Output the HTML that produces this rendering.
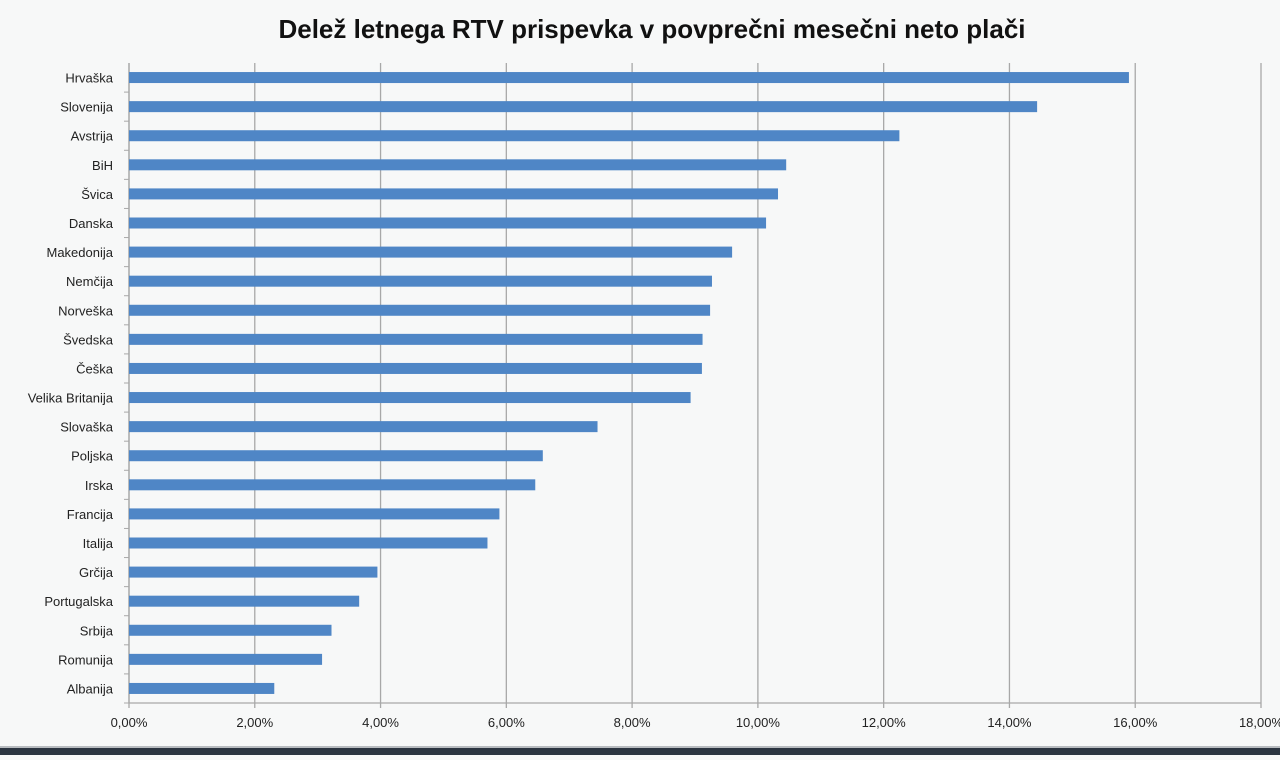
<!DOCTYPE html>
<html><head><meta charset="utf-8"><style>
body{margin:0;width:1280px;height:755px;background:#f7f8f8;overflow:hidden;font-family:"Liberation Sans",sans-serif}
</style></head><body>
<svg id="c" width="1280" height="755">
<rect x="0" y="0" width="1280" height="747" fill="#f7f8f8"/>
<rect x="0" y="746" width="1280" height="2" fill="#b8bcc0"/>
<rect x="0" y="748" width="1280" height="7" fill="#2b3541"/>
<text x="652" y="38" text-anchor="middle" font-size="26" font-weight="bold" fill="#111">Delež letnega RTV prispevka v povprečni mesečni neto plači</text>
<g id="grid"></g><g id="bars"></g><g id="labels"></g><g id="ticks"></g>
</svg>
<script>
const categories=["Hrvaška","Slovenija","Avstrija","BiH","Švica","Danska","Makedonija","Nemčija","Norveška","Švedska","Češka","Velika Britanija","Slovaška","Poljska","Irska","Francija","Italija","Grčija","Portugalska","Srbija","Romunija","Albanija"];
const values=[15.9,14.44,12.25,10.45,10.32,10.13,9.59,9.27,9.24,9.12,9.11,8.93,7.45,6.58,6.46,5.89,5.70,3.95,3.66,3.22,3.07,2.31];
const tickValues=[0,2,4,6,8,10,12,14,16,18];
const tickLabels=["0,00%","2,00%","4,00%","6,00%","8,00%","10,00%","12,00%","14,00%","16,00%","18,00%"];
const NS="http://www.w3.org/2000/svg";
const x0=129,x1=1261,plotTop=63,plotBottom=703,maxV=18;
const xs=v=>x0+(v/maxV)*(x1-x0);
const rowH=(plotBottom-plotTop)/categories.length;
const yc=i=>plotTop+rowH*(i+0.5);
function mk(t,a,p){const e=document.createElementNS(NS,t);for(const k in a)e.setAttribute(k,a[k]);p.appendChild(e);return e;}
const G=document.getElementById('grid'),B=document.getElementById('bars'),L=document.getElementById('labels'),T=document.getElementById('ticks');
tickValues.forEach((v,i)=>{
 const ln=mk('line',{x1:xs(v),x2:xs(v),y1:plotTop,y2:plotBottom+5,stroke:'#a8a8a8','stroke-width':1.3},G);
 
 
 const t=mk('text',{x:xs(v),y:plotBottom+24,'text-anchor':'middle','font-size':13,fill:'#222'},T);
 t.textContent=tickLabels[i];
 
 
});
const ax=mk('line',{x1:x0,x2:x1,y1:plotBottom,y2:plotBottom,stroke:'#a8a8a8','stroke-width':1.3},G);


const ay=mk('line',{x1:x0,x2:x0,y1:plotTop,y2:plotBottom,stroke:'#a8a8a8','stroke-width':1.3},G);


categories.forEach((c,i)=>{
 const tk=mk('line',{x1:x0-5,x2:x0,y1:plotTop+rowH*(i+1),y2:plotTop+rowH*(i+1),stroke:'#a8a8a8'},G);
 
 
 const r=mk('rect',{x:x0,y:yc(i)-5.5,width:xs(values[i])-x0,height:11,fill:'#4f86c6'},B);
 
 
 const t=mk('text',{x:113,y:yc(i)+5,'text-anchor':'end','font-size':13,fill:'#222'},L);
 t.textContent=c;
 
 
});
</script>
</body></html>
